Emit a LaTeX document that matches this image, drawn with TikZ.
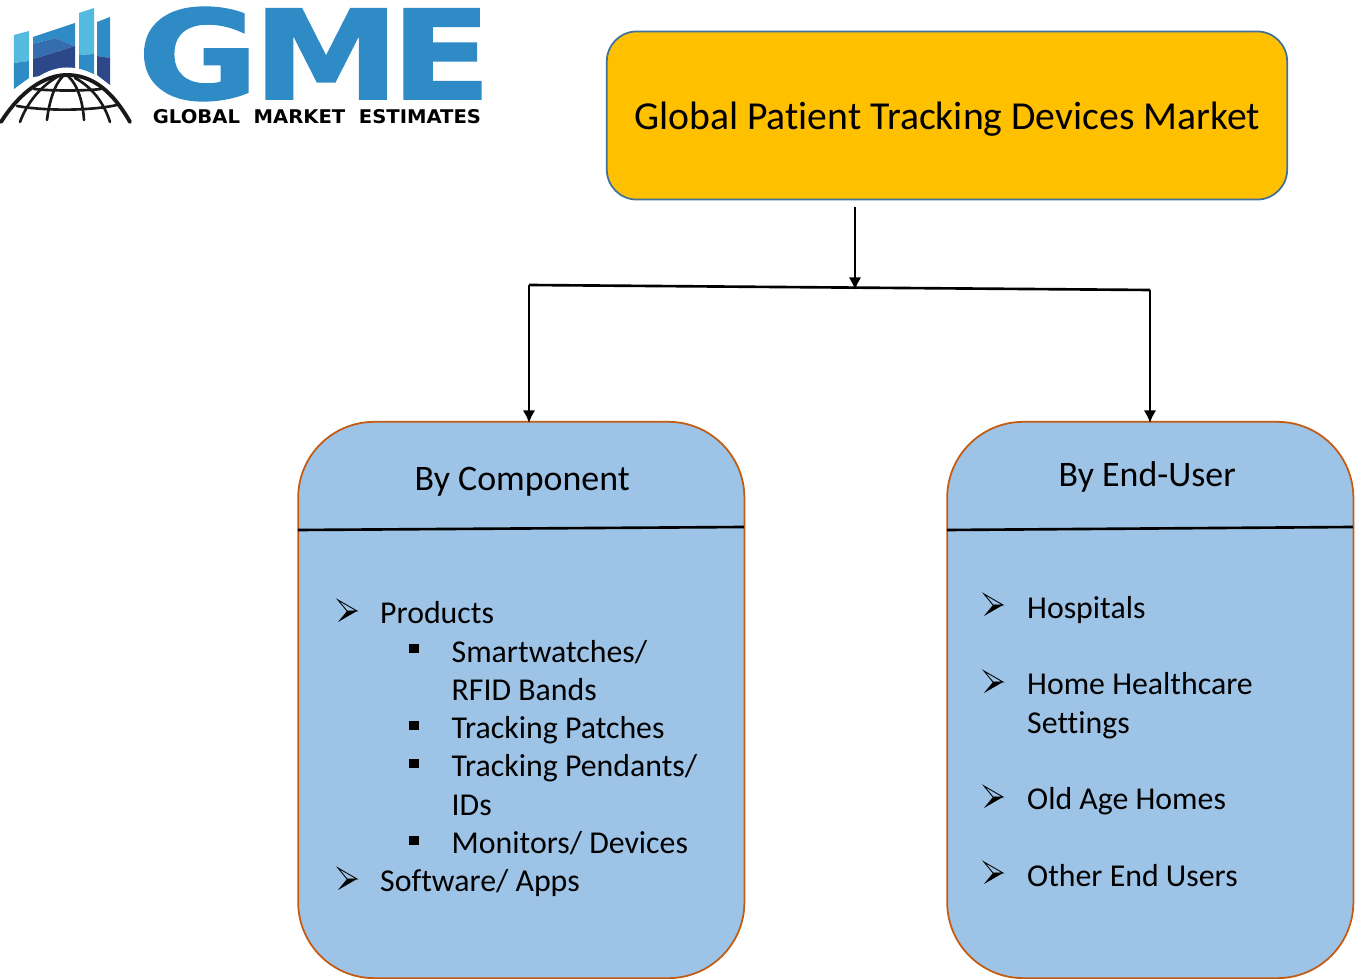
\documentclass[tikz,border=0pt]{standalone}
\usepackage{graphicx}
\usepackage{fontspec}
\setmainfont{Carlito}[Ligatures=CommonOff]
\newfontfamily\logofont[FakeBold=1.2]{DejaVu Sans Bold}
\newfontfamily\linefont{DejaVu Sans Bold}
\usetikzlibrary{arrows.meta}
\definecolor{gmeblue}{RGB}{46,139,198}
\definecolor{gmelight}{RGB}{84,186,224}
\definecolor{gmemid}{RGB}{53,110,176}
\definecolor{gmedark}{RGB}{44,72,136}
\definecolor{titlefill}{RGB}{255,192,0}
\definecolor{titleline}{RGB}{65,113,156}
\definecolor{boxfill}{RGB}{157,195,230}
\definecolor{boxline}{RGB}{197,90,17}
\tikzset{
  titlebox/.style={draw=titleline, fill=titlefill, line width=0.5pt, rounded corners=0.3cm,
    minimum width=6.8cm, minimum height=1.68cm, inner sep=0pt},
  groupbox/.style={draw=boxline, fill=boxfill, line width=0.5pt, rounded corners=0.76cm,
    minimum height=5.56cm, inner sep=0pt},
  link/.style={line width=0.75pt, -{Latex[length=3.6pt,width=3.6pt]}, shorten >=-0.6pt},
  rule/.style={line width=0.75pt},
  head/.style={font=\fontsize{10.2pt}{12pt}\selectfont, anchor=base west, inner sep=0pt},
  item/.style={font=\fontsize{9.05pt}{11pt}\selectfont, anchor=base west, inner sep=0pt},
  squaremark/.style={fill=black, minimum size=0.09cm, inner sep=0pt},
  dome/.style={line width=0.75pt, draw=black!90, line cap=round},
  arrowmark/.pic={
    \draw[black, line width=0.25pt] (-9,-11) -- (10,0) -- (0,0) -- cycle;
    \fill[black] (-9,11) -- (10,0) -- (0,0) -- cycle;
  },
}
\begin{document}
\begin{tikzpicture}[x=0.01cm, y=-0.01cm]
    \useasboundingbox (0,0) rectangle (1356,979);

    % Logo bars
    \fill[gmelight] (14,35) -- (29,31) -- (29,61) -- (14,63) -- cycle;
    \fill[gmeblue] (14,63) -- (29,61) -- (29,78) -- (14,89) -- cycle;
    \fill[gmeblue] (33,37) -- (75,23) -- (75,46) -- (55,38) -- (33,44) -- cycle;
    \fill[gmemid] (33,44) -- (55,38) -- (75,46) -- (63,50) -- (33,59) -- cycle;
    \fill[gmedark] (33,59) -- (63,50) -- (75,46) -- (75,72) -- (33,77) -- cycle;
    \fill[gmelight] (79,13) -- (94,8) -- (94,54) -- (79,55) -- cycle;
    \fill[gmeblue] (79,55) -- (94,54) -- (94,75) -- (79,72) -- cycle;
    \fill[gmeblue] (97,22) -- (110,17) -- (110,58) -- (97,56) -- cycle;
    \fill[gmedark] (97,56) -- (110,58) -- (110,85) -- (97,75) -- cycle;

    % Logo globe
    \draw[white, line width=2pt] (2,124) .. controls (22,89) and (45,71) .. (67,71) .. controls (93,71) and (115,90) .. (132,124);
    \draw[dome, line width=1.1pt] (1,122) .. controls (20,92) and (44,75) .. (67,75) .. controls (93,75) and (113,92) .. (130,122);
    \draw[dome] (34,89) .. controls (50,91) and (85,91) .. (101,89);
    \draw[dome] (17,106) .. controls (45,111) and (90,111) .. (117,105);
    \draw[dome] (20,122) .. controls (27,103) and (40,87) .. (57,77);
    \draw[dome] (47,120) .. controls (49,103) and (54,85) .. (63,76);
    \draw[dome] (84,120) .. controls (83,103) and (78,85) .. (68,76);
    \draw[dome] (110,122) .. controls (104,103) and (92,87) .. (75,78);

    % Logo text
    \node[inner sep=0pt, text=gmeblue] (logoName) at (313,54) {\resizebox{3.36cm}{0.92cm}{\logofont\kern-0.05em G\kern-0.04em M\kern-0.06em E\kern-0.07em}};
    \node[inner sep=0pt] (logoLine) at (317,117) {\resizebox{3.28cm}{0.14cm}{\linefont GLOBAL\ \ MARKET\ \ ESTIMATES}};

    % Title
    \node[titlebox] (marketBox) at (947,115.5) {};
    \node[head, font=\fontsize{11.28pt}{13pt}\selectfont] (marketText) at (633.5,130) {Global Patient Tracking Devices Market};

    % Groups
    \node[groupbox, minimum width=4.46cm] (compBox) at (521.3,700) {};
    \node[groupbox, minimum width=4.06cm] (userBox) at (1150.3,700) {};
    \node[head] (compHead) at (414,491) {By Component};
    \node[head] (userHead) at (1058,487) {By End-User};

    % Dividers
    \coordinate (compRuleL) at (298,530);
    \coordinate (compRuleR) at (744,527);
    \coordinate (userRuleL) at (947,530);
    \coordinate (userRuleR) at (1353,527);
    \draw[rule] (compRuleL) -- (compRuleR);
    \draw[rule] (userRuleL) -- (userRuleR);

    % Connectors
    \coordinate (trunkTop) at (855,207);
    \coordinate (trunkEnd) at (855,288);
    \coordinate (splitL) at (529,285);
    \coordinate (splitR) at (1150,290);
    \draw[link] (trunkTop) -- (trunkEnd);
    \draw[rule] (splitL) -- (splitR);
    \draw[link] (splitL) -- (splitL |- compBox.north);
    \draw[link] (splitR) -- (splitR |- userBox.north);

    % By Component list
    \node[item] (compa) at (379.5,623.7) {Products};
    \node[item] (compb) at (379.5,891.7) {Software/ Apps};
    \pic at (347,611) {arrowmark};
    \pic at (347,879) {arrowmark};
    \foreach \n/\y/\txt in {a/662.5/{Smartwatches/}, b/700.5/{RFID Bands}, c/738.7/{Tracking Patches}, d/776.7/{Tracking Pendants/}, e/815.5/{IDs}, f/853.7/{Monitors/ Devices}} {
        \node[item] (sub\n) at (451,\y) {\txt};
    }
    \foreach \n/\y in {a/649, c/726, d/764, f/841} {
        \node[squaremark] (subMark\n) at (414,\y) {};
    }

    % By End-User list
    \foreach \n/\y/\txt in {a/618.3/{Hospitals}, b/694.7/{Home Healthcare}, c/733.3/{Settings}, d/809.7/{Old Age Homes}, e/886.3/{Other End Users}} {
        \node[item] (user\n) at (1026.5,\y) {\txt};
    }
    \foreach \y in {605, 682, 797, 873} {
        \pic at (993,\y) {arrowmark};
    }
\end{tikzpicture}
\end{document}
